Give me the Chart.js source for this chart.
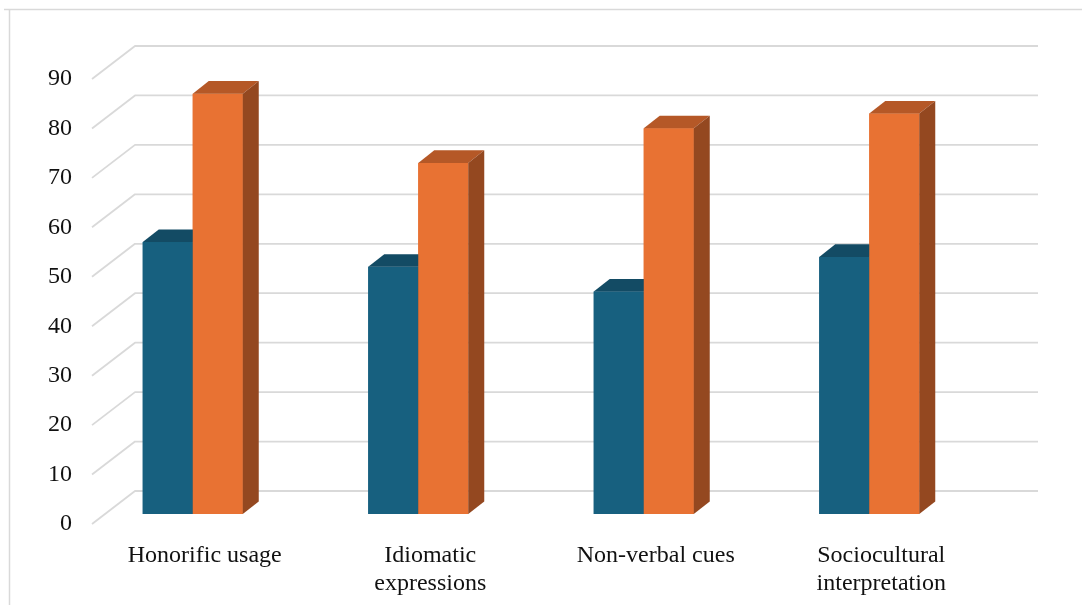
<!DOCTYPE html>
<html>
<head>
<meta charset="utf-8">
<script src="https://cdn.jsdelivr.net/npm/chart.js@4/dist/chart.umd.min.js"></script>
<style>
  html, body { margin: 0; padding: 0; background: #ffffff; }
  #wrap { width: 1082px; height: 605px; position: relative; }
</style>
</head>
<body>
<div id="wrap"><canvas id="chart" width="1082" height="605"></canvas></div>
<script>
// Categories (multi-line where the label wraps)
const categories = [
  'Honorific usage',
  ['Idiomatic', 'expressions'],
  'Non-verbal cues',
  ['Sociocultural', 'interpretation']
];

// Series values
const series1 = [55, 50, 45, 52];
const series2 = [85, 71, 78, 81];

// Value axis ticks
const yMin = 0;
const yMax = 90;
const yStep = 10;
const yTicks = [0, 10, 20, 30, 40, 50, 60, 70, 80, 90];

// Face colours for the pseudo-3D columns: front, top, side
const faces = [
  { front: '#17607f', top: '#134b64', side: '#0f3f55' },
  { front: '#e87233', top: '#b55827', side: '#944820' }
];

// Oblique projection of the column depth
const BAR_DX = 16, BAR_DY = 12.6;
// Wall / floor geometry relative to the column plane
const FRONT_DX = 12, FRONT_DY = 10, BACK_DX = 55, BACK_DY = -23, BACK_RIGHT_DX = 56;

const serif = "'Liberation Serif', 'Times New Roman', serif";

// Frame around the chart plus the oblique grid on the back wall
const wallPlugin = {
  id: 'wall',
  beforeDraw(chart) {
    const ctx = chart.ctx;
    ctx.save();
    ctx.fillStyle = '#ffffff';
    ctx.fillRect(0, 0, chart.width, chart.height);
    ctx.strokeStyle = '#d9d9d9';
    ctx.lineWidth = 1.5;
    ctx.beginPath();
    ctx.moveTo(4, 9.5);
    ctx.lineTo(chart.width, 9.5);
    ctx.moveTo(9.5, 9.5);
    ctx.lineTo(9.5, chart.height);
    ctx.stroke();
    ctx.restore();
  },
  beforeDatasetsDraw(chart) {
    const ctx = chart.ctx;
    const area = chart.chartArea;
    const ys = chart.scales.y;
    ctx.save();
    ctx.strokeStyle = '#d9d9d9';
    ctx.lineWidth = 1.8;
    ctx.lineJoin = 'round';
    yTicks.forEach(v => {
      const y = ys.getPixelForValue(v);
      ctx.beginPath();
      ctx.moveTo(area.left + FRONT_DX, y + FRONT_DY);
      ctx.lineTo(area.left + BACK_DX, y + BACK_DY);
      ctx.lineTo(area.right + BACK_RIGHT_DX, y + BACK_DY);
      ctx.stroke();
    });
    ctx.restore();
  }
};

// Paint each column as a solid block (front, top, side), series in index
// order so the right-hand column of a pair sits in front of its neighbour's side
const depthPlugin = {
  id: 'depth',
  afterDatasetsDraw(chart) {
    const ctx = chart.ctx;
    ctx.save();
    chart.data.datasets.forEach((ds, i) => {
      const meta = chart.getDatasetMeta(i);
      const col = faces[i];
      meta.data.forEach(el => {
        const p = el.getProps(['x', 'y', 'base', 'width'], true);
        const l = p.x - p.width / 2, r = p.x + p.width / 2;
        ctx.fillStyle = col.front;
        ctx.fillRect(l, p.y, p.width, p.base - p.y);
        ctx.fillStyle = col.top;
        ctx.beginPath();
        ctx.moveTo(l, p.y);
        ctx.lineTo(r, p.y);
        ctx.lineTo(r + BAR_DX, p.y - BAR_DY);
        ctx.lineTo(l + BAR_DX, p.y - BAR_DY);
        ctx.closePath();
        ctx.fill();
        ctx.fillStyle = col.side;
        ctx.beginPath();
        ctx.moveTo(r, p.y);
        ctx.lineTo(r + BAR_DX, p.y - BAR_DY);
        ctx.lineTo(r + BAR_DX, p.base - BAR_DY);
        ctx.lineTo(r, p.base);
        ctx.closePath();
        ctx.fill();
      });
    });
    ctx.restore();
  }
};

new Chart(document.getElementById('chart'), {
  type: 'bar',
  data: {
    labels: categories,
    datasets: [
      { label: 'Series 1', data: series1, backgroundColor: faces[0].front,
        borderWidth: 0, barPercentage: 1, categoryPercentage: 0.4435, clip: false },
      { label: 'Series 2', data: series2, backgroundColor: faces[1].front,
        borderWidth: 0, barPercentage: 1, categoryPercentage: 0.4435, clip: false }
    ]
  },
  options: {
    responsive: false,
    animation: false,
    layout: { padding: { left: 0, top: 69, right: 100, bottom: 0 } },
    plugins: { legend: { display: false }, tooltip: { enabled: false }, title: { display: false } },
    scales: {
      x: {
        grid: { display: false },
        border: { display: false },
        ticks: {
          color: '#111111',
          font: { family: serif, size: 24, lineHeight: 1.15 },
          padding: 20,
          labelOffset: 12,
          maxRotation: 0,
          autoSkip: false
        },
        afterFit(scale) { scale.height = 91; }
      },
      y: {
        min: yMin,
        max: yMax,
        grid: { display: false },
        border: { display: false },
        ticks: {
          stepSize: yStep,
          color: '#111111',
          font: { family: serif, size: 24 },
          padding: 0,
          labelOffset: 10
        },
        afterFit(scale) { scale.width = 80; }
      }
    }
  },
  plugins: [wallPlugin, depthPlugin]
});
</script>
</body>
</html>
